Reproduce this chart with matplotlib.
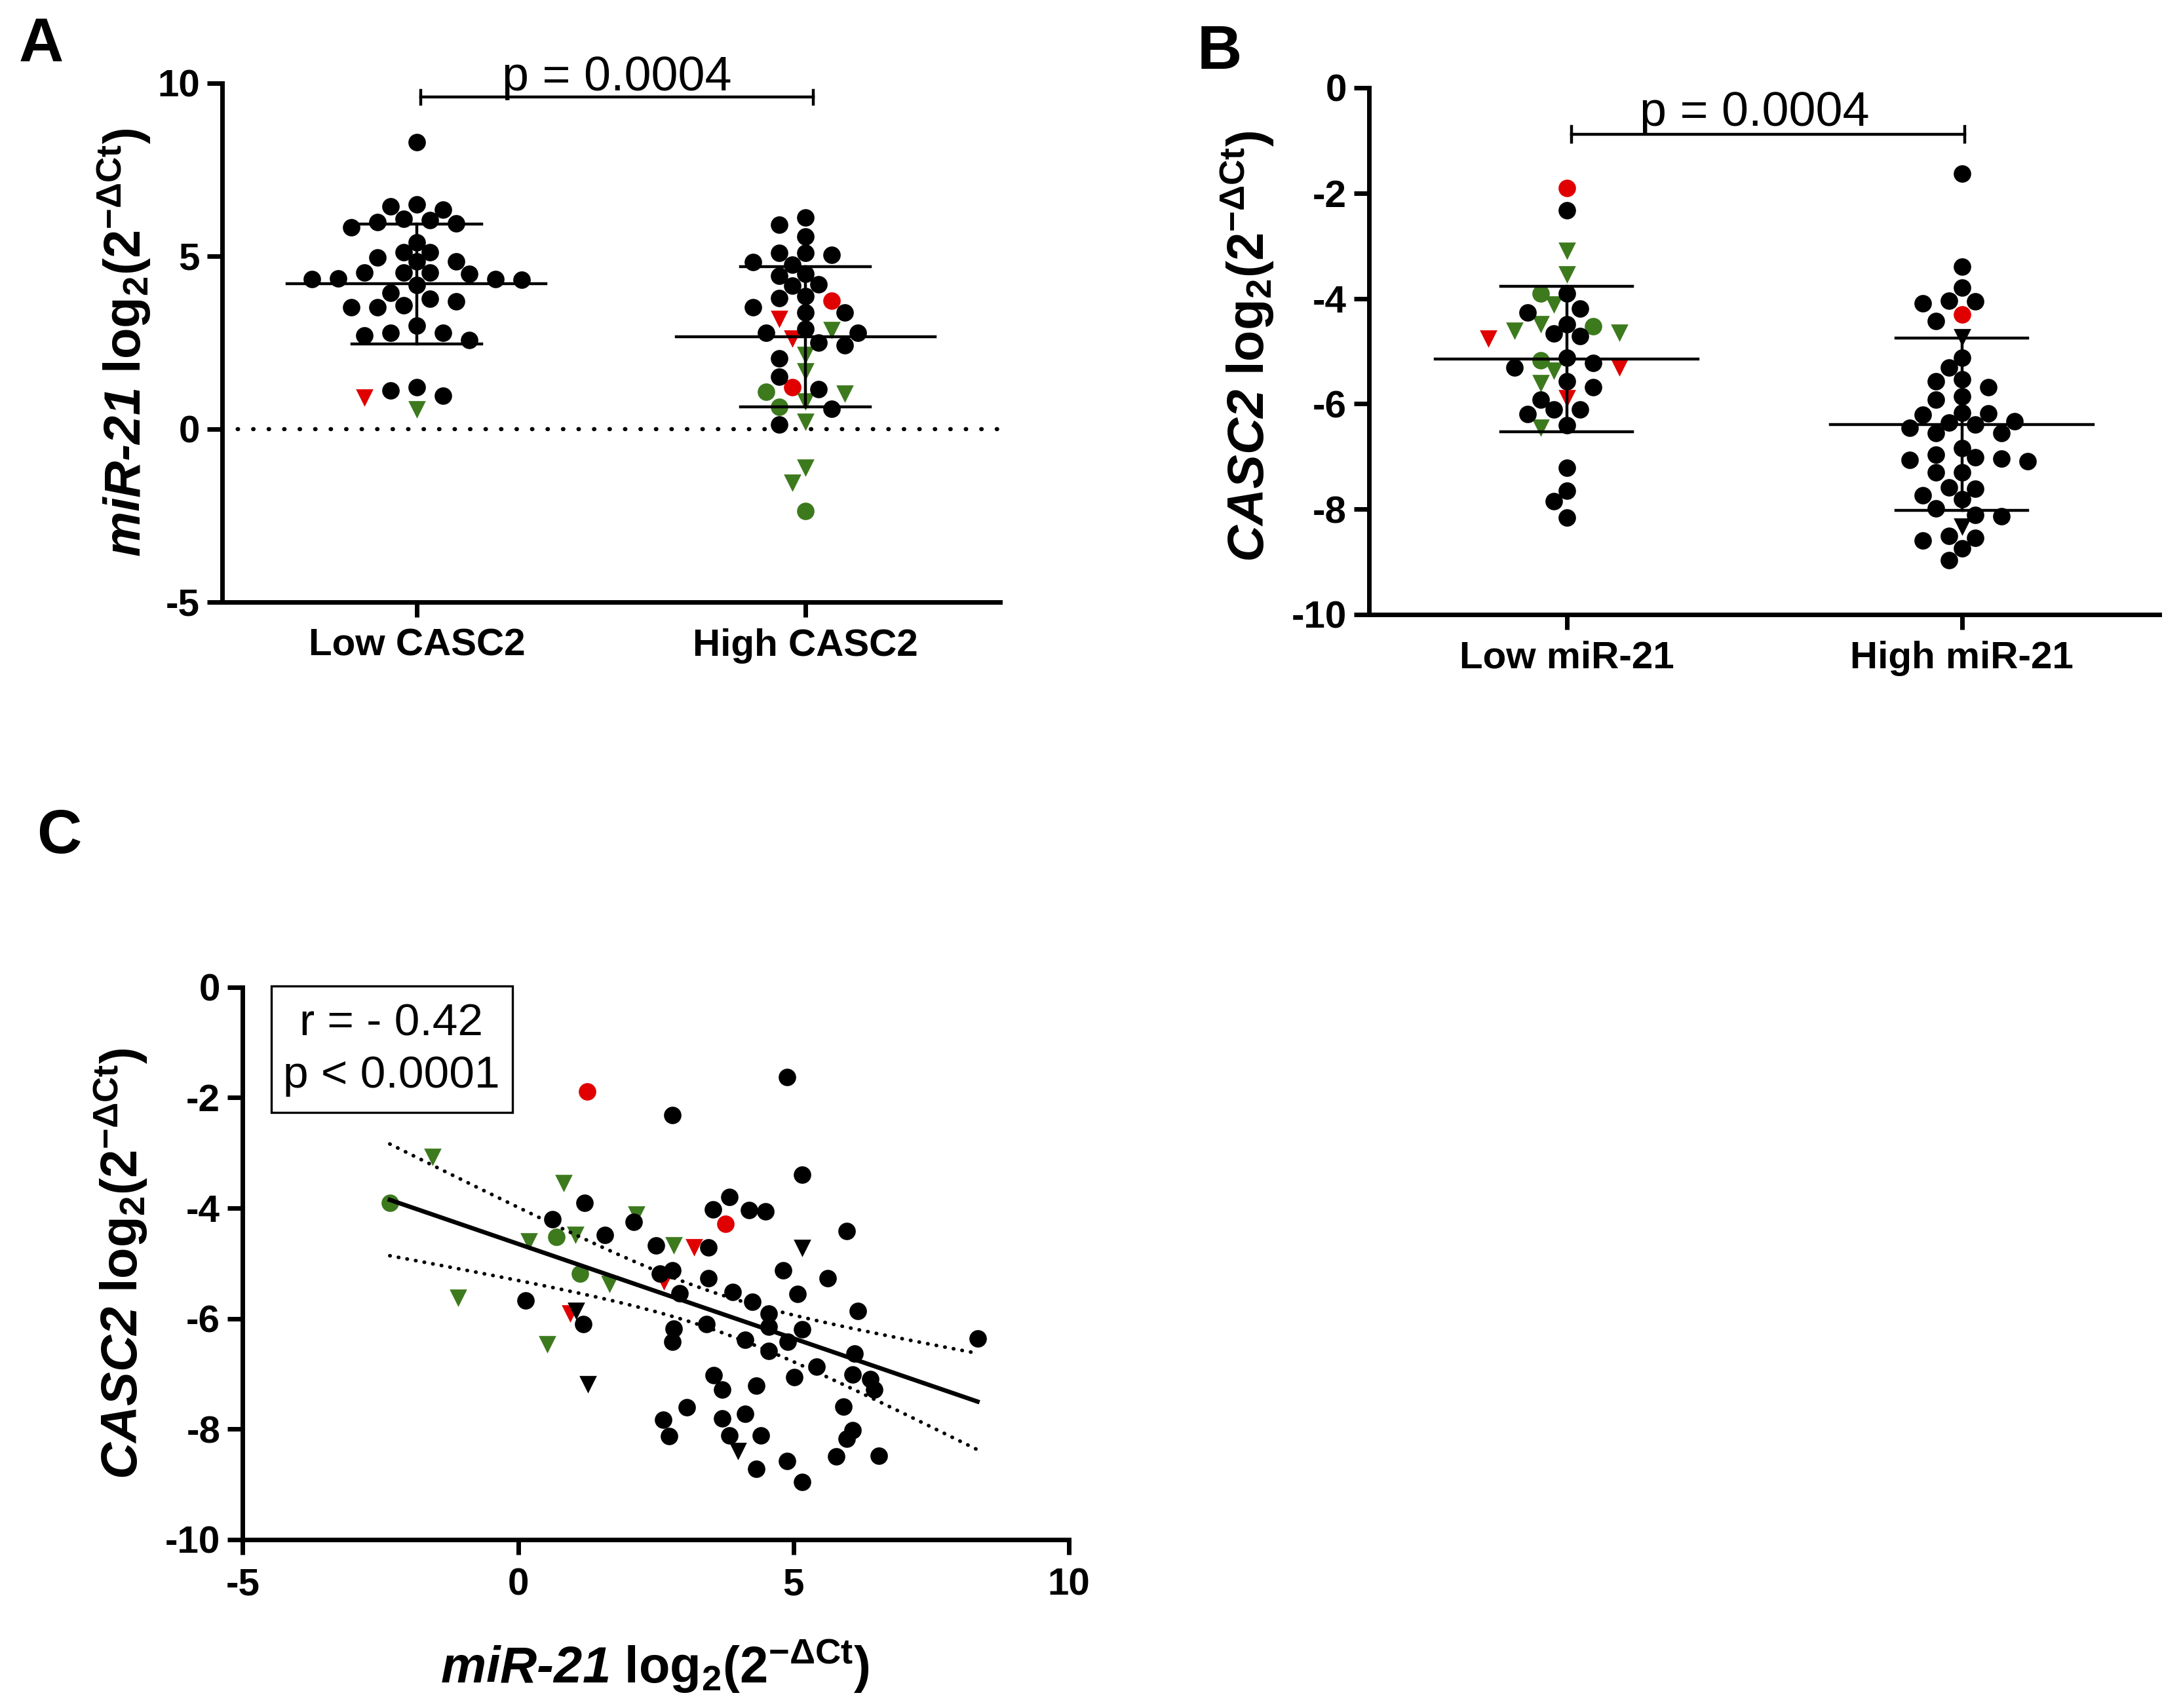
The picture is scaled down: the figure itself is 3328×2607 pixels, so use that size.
import numpy as np
import matplotlib
matplotlib.use('Agg')
import matplotlib.pyplot as plt
from matplotlib.patches import Rectangle

plt.rcParams['font.family'] = ['Liberation Sans', 'DejaVu Sans']
plt.rcParams['mathtext.fontset'] = 'custom'
plt.rcParams['mathtext.rm'] = 'Liberation Sans:bold'
plt.rcParams['mathtext.it'] = 'Liberation Sans:bold:italic'
plt.rcParams['mathtext.bf'] = 'Liberation Sans:bold'
plt.rcParams['axes.unicode_minus'] = False

# subgroup codes used in all panels
# 0 black circle, 1 black triangle, 2 red circle, 3 red triangle, 4 green circle, 5 green triangle
STYLE = {
    0: ('#000000', 'o'),
    1: ('#000000', 'v'),
    2: ('#e00000', 'o'),
    3: ('#e00000', 'v'),
    4: ('#3d7a1e', 'o'),
    5: ('#3d7a1e', 'v'),
}

# ---- panel A: miR-21 in low / high CASC2 ----
a_labels = ['Low CASC2', 'High CASC2']
a_low = [8.3, 6.35, 6.5, 6.44, 6.04, 5.94, 5.83, 5.99, 6.07, 5.40, 5.11, 4.85, 4.84,
         4.97, 5.12, 4.53, 4.52, 4.34, 4.32, 4.16, 4.34, 4.36, 4.48, 4.52, 3.93, 3.69,
         3.53, 3.53, 3.58, 3.77, 2.99, 2.78, 2.57, 2.70, 2.78, 0.96, 1.22, 1.11,
         0.57, 0.91]
a_low_grp = [0] * 38 + [5, 3]
a_high = [6.12, 5.90, 5.56, 5.09, 5.03, 5.09, 4.76, 4.83, 4.44, 4.49, 4.14, 4.18, 3.78,
          3.85, 3.52, 3.37, 3.37, 2.89, 2.78, 2.78, 2.43, 2.49, 2.05, 1.51, 1.16, 0.59, 0.13,
          3.72, 1.22,
          3.18, 2.61,
          2.85, 2.14, 1.66, 1.02, 0.80, 0.21, -1.12, -1.56,
          1.07, 0.64, -2.37]
a_high_grp = [0] * 27 + [2] * 2 + [3] * 2 + [5] * 8 + [4] * 3
a_pvalue = 'p = 0.0004'

# ---- panel B: CASC2 in low / high miR-21 ----
b_labels = ['Low miR-21', 'High miR-21']
b_low = [-1.90,
         -2.33, -3.91, -4.26, -4.19, -4.49, -4.67, -4.72, -5.22, -5.13, -5.31, -5.57,
         -5.68, -5.92, -6.11, -6.19, -6.11, -6.40, -7.21, -7.65, -7.85, -8.16,
         -3.10, -3.54, -4.12, -4.65, -4.61, -4.49, -5.37, -5.61, -6.45,
         -3.91, -4.53, -5.18,
         -4.76, -5.31, -5.89]
b_low_grp = [2] + [0] * 21 + [5] * 9 + [4] * 3 + [3] * 3
b_high = [-1.63, -3.40, -3.79, -4.05, -4.09, -4.04, -4.43, -5.13, -5.31, -5.53, -5.57,
          -5.68, -5.92, -5.86, -6.17, -6.33, -6.36, -6.21, -6.18, -6.39, -6.56, -6.45,
          -6.56, -6.84, -7.04, -7.09, -6.97, -7.07, -7.02, -7.30, -7.30, -7.61, -7.59,
          -7.74, -7.81, -7.98, -8.14, -8.11, -8.60, -8.51, -8.54, -8.74, -8.97,
          -4.30,
          -4.74, -8.33]
b_high_grp = [0] * 43 + [2] + [1, 1]
b_pvalue = 'p = 0.0004'

# ---- panel C: correlation ----
c_mir21 = [1.25, 4.88, 2.80, 5.16, -1.56, 0.82, -2.33, 1.21, 3.84, 3.54, 4.19, 4.49,
           3.77, 0.62, 2.15, 2.10, 0.69, 0.19, 1.04, 1.57, 5.97, 2.50, 2.83, 3.19,
           3.45, 5.16, 1.12, 2.80, 2.57, 2.65, 4.81, 5.62, 3.45, 1.66, 2.93, 3.89,
           5.07, -1.09, 0.14, 4.25, 4.55, 0.95, 1.05, 6.17, 1.18, 3.42, 2.83, 4.55,
           5.16, 2.80, 4.12, 4.90, 8.34, 0.53, 4.55, 6.11, 5.42, 3.55, 5.01, 6.07,
           6.39, 1.27, 3.71, 4.32, 6.46, 3.06, 4.12, 5.91, 2.63, 3.71, 2.74, 3.84,
           4.41, 6.07, 5.97, 3.99, 5.78, 6.55, 4.88, 4.32, 5.16]
c_casc2 = [-1.89, -1.63, -2.32, -3.40, -3.08, -3.55, -3.91, -3.91, -3.80, -4.02, -4.04,
           -4.06, -4.28, -4.20, -4.12, -4.25, -4.52, -4.60, -4.49, -4.49, -4.41, -4.68,
           -4.68, -4.71, -4.71, -4.73, -5.19, -5.13, -5.19, -5.33, -5.13, -5.27, -5.27,
           -5.38, -5.54, -5.52, -5.56, -5.63, -5.67, -5.70, -5.91, -5.91, -5.86, -5.86,
           -6.10, -6.10, -6.18, -6.15, -6.20, -6.42, -6.38, -6.42, -6.36, -6.47, -6.58,
           -6.63, -6.87, -7.02, -7.06, -7.01, -7.09, -7.19, -7.29, -7.22, -7.29, -7.61,
           -7.72, -7.59, -7.83, -7.81, -8.13, -8.11, -8.11, -8.02, -8.18, -8.40, -8.50,
           -8.48, -8.58, -8.72, -8.96]
c_grp = [2, 0, 0, 0, 5, 5, 4, 0, 0, 0, 0, 0, 2, 0, 5, 0, 4, 5, 5, 0, 0, 0, 5, 3, 0, 1,
         4, 0, 0, 3, 0, 0, 0, 5, 0, 0, 0, 5, 0, 0, 0, 3, 1, 0, 0, 0, 0, 0, 0, 0, 0, 0,
         0, 5, 0, 0, 0, 0, 0, 0, 0, 1, 0, 0, 0, 0, 0, 0, 0, 0, 0, 0, 0, 0, 0, 1, 0, 0,
         0, 0, 0]
c_stats = ['r = - 0.42', 'p < 0.0001']

DPI = 200
MS = 9.6                 # marker size, points
TICK_FS = 21
LABEL_FS = 28
SPINE_W = 2.5

mir_label = r'miR-21 $\mathrm{log_2(2^{-\Delta Ct})}$'
casc_label = r'CASC2 $\mathrm{log_2(2^{-\Delta Ct})}$'


def style_axes(ax):
    for side in ('top', 'right'):
        ax.spines[side].set_visible(False)
    for side in ('left', 'bottom'):
        ax.spines[side].set_linewidth(SPINE_W)
    ax.tick_params(direction='out', length=8.3, width=SPINE_W, labelsize=TICK_FS, pad=4)
    for lab in ax.get_xticklabels() + ax.get_yticklabels():
        lab.set_fontweight('bold')


def swarm(ax, center, values):
    """GraphPad-like column scatter: greedy placement, top value first."""
    T = ax.transData
    vals = np.asarray(values, float)
    ypx = T.transform(np.column_stack([np.full(len(vals), center), vals]))[:, 1]
    px_unit = T.transform((1, 0))[0] - T.transform((0, 0))[0]
    diam = MS * DPI / 72.0
    step = diam * 0.75
    cands = [0]
    for k in range(1, 60):
        cands += [-k, k]
    px_x, px_y = [], []
    out = np.zeros(len(vals))
    for i in np.argsort(-vals, kind='stable'):
        for c in cands:
            ox = c * step
            if all((ox - a) ** 2 + (ypx[i] - b) ** 2 >= (0.92 * diam) ** 2
                   for a, b in zip(px_x, px_y)):
                break
        px_x.append(ox)
        px_y.append(ypx[i])
        out[i] = center + ox / px_unit
    return out


def draw_group(ax, center, values, groups):
    xs = swarm(ax, center, values)
    vals = np.asarray(values)
    grps = np.asarray(groups)
    for g in (2, 3, 4, 5, 1, 0):
        m = grps == g
        if not m.any():
            continue
        color, marker = STYLE[g]
        ax.scatter(xs[m], vals[m], s=MS ** 2, c=color, marker=marker,
                   linewidths=0, zorder=3 if color == '#000000' else 2)
    mean = vals.mean()
    sd = vals.std(ddof=1)
    lw = 1.6
    ax.plot([center - 0.333, center + 0.333], [mean, mean], color='k', lw=lw, zorder=4)
    for v in (mean - sd, mean + sd):
        ax.plot([center - 0.167, center + 0.167], [v, v], color='k', lw=lw, zorder=4)
    ax.plot([center, center], [mean - sd, mean + sd], color='k', lw=lw, zorder=4)


def sig_bar(ax, x0, x1, y, half, text, xt, yt):
    ax.plot([x0, x1], [y, y], color='k', lw=1.6, zorder=4, clip_on=False)
    for x in (x0, x1):
        ax.plot([x, x], [y - half, y + half], color='k', lw=1.6, zorder=4, clip_on=False)
    ax.text(xt, yt, text, ha='center', va='baseline', fontsize=26.5, clip_on=False)


fig = plt.figure(figsize=(3328 / DPI, 2607 / DPI), dpi=DPI)

# ---------- A ----------
axA = fig.add_axes([0.1019, 0.6475, 0.4585 - 0.1019, 0.9513 - 0.6475])
axA.set_xlim(-0.5, 1.5)
axA.set_ylim(-5, 10)
axA.set_xticks([0, 1])
axA.set_xticklabels(a_labels)
axA.set_yticks([-5, 0, 5, 10])
axA.axhline(0, color='k', lw=2.3, linestyle=(0, (0.1, 3.6)), dash_capstyle='round', zorder=1)
draw_group(axA, 0, a_low, a_low_grp)
draw_group(axA, 1, a_high, a_high_grp)
sig_bar(axA, 0.01, 1.02, 9.6, 0.2, a_pvalue, 0.515, 9.8)
style_axes(axA)
axA.tick_params(axis='x', pad=6)
axA.text(-0.1255, 0.5, mir_label, rotation=90, ha='center', va='center',
         transform=axA.transAxes, fontsize=LABEL_FS, fontweight='bold', fontstyle='italic')

# ---------- B ----------
axB = fig.add_axes([0.6277, 0.6402, 0.9901 - 0.6277, 0.9486 - 0.6402])
axB.set_xlim(-0.5, 1.5)
axB.set_ylim(-10, 0)
axB.set_xticks([0, 1])
axB.set_xticklabels(b_labels)
axB.set_yticks([0, -2, -4, -6, -8, -10])
draw_group(axB, 0, b_low, b_low_grp)
draw_group(axB, 1, b_high, b_high_grp)
sig_bar(axB, 0.013, 1.008, -0.88, 0.15, b_pvalue, 0.475, -0.72)
style_axes(axB)
axB.tick_params(axis='x', pad=6)
axB.text(-0.154, 0.509, casc_label, rotation=90, ha='center', va='center',
         transform=axB.transAxes, fontsize=LABEL_FS, fontweight='bold', fontstyle='italic')

# ---------- C ----------
axC = fig.add_axes([0.1113, 0.0986, 0.4901 - 0.1113, 0.4221 - 0.0986])
axC.set_xlim(-5, 10)
axC.set_ylim(-10, 0)
axC.set_xticks([-5, 0, 5, 10])
axC.set_yticks([0, -2, -4, -6, -8, -10])
cx = np.asarray(c_mir21)
cy = np.asarray(c_casc2)
cg = np.asarray(c_grp)
for g in (2, 3, 4, 5, 1, 0):
    m = cg == g
    color, marker = STYLE[g]
    axC.scatter(cx[m], cy[m], s=MS ** 2, c=color, marker=marker, linewidths=0,
                zorder=3 if color == '#000000' else 2)

# linear fit with 95% confidence band
n = len(cx)
slope, icpt = np.polyfit(cx, cy, 1)
xf = np.linspace(cx.min(), cx.max(), 200)
yf = slope * xf + icpt
resid = cy - (slope * cx + icpt)
s_err = np.sqrt(np.sum(resid ** 2) / (n - 2))
sxx = np.sum((cx - cx.mean()) ** 2)
t95 = 1.99
band = t95 * s_err * np.sqrt(1.0 / n + (xf - cx.mean()) ** 2 / sxx)
axC.plot(xf, yf, color='k', lw=2.4, zorder=4)
for b in (yf + band, yf - band):
    axC.plot(xf, b, color='k', lw=2.0, linestyle=(0, (0.1, 2.3)),
             dash_capstyle='round', zorder=4)

axC.add_patch(Rectangle((0.0345, 0.773), 0.292, 0.229, transform=axC.transAxes,
                        fill=False, lw=1.2, edgecolor='k', clip_on=False, zorder=5))
axC.text(0.180, 0.934, c_stats[0], ha='center', va='center', fontsize=25,
         transform=axC.transAxes)
axC.text(0.180, 0.840, c_stats[1], ha='center', va='center', fontsize=25,
         transform=axC.transAxes)
style_axes(axC)
axC.tick_params(axis='x', pad=7)
axC.text(-0.147, 0.50, casc_label, rotation=90, ha='center', va='center',
         transform=axC.transAxes, fontsize=LABEL_FS, fontweight='bold', fontstyle='italic')
axC.text(0.499, -0.23, mir_label, ha='center', va='center',
         transform=axC.transAxes, fontsize=LABEL_FS, fontweight='bold', fontstyle='italic')

# panel letters
for letter, (x, y) in zip('ABC', [(0.019, 0.973), (0.559, 0.969), (0.027, 0.510)]):
    fig.text(x, y, letter, ha='center', va='center', fontsize=34, fontweight='bold')

fig.savefig('out.png', dpi=DPI, facecolor='white')
